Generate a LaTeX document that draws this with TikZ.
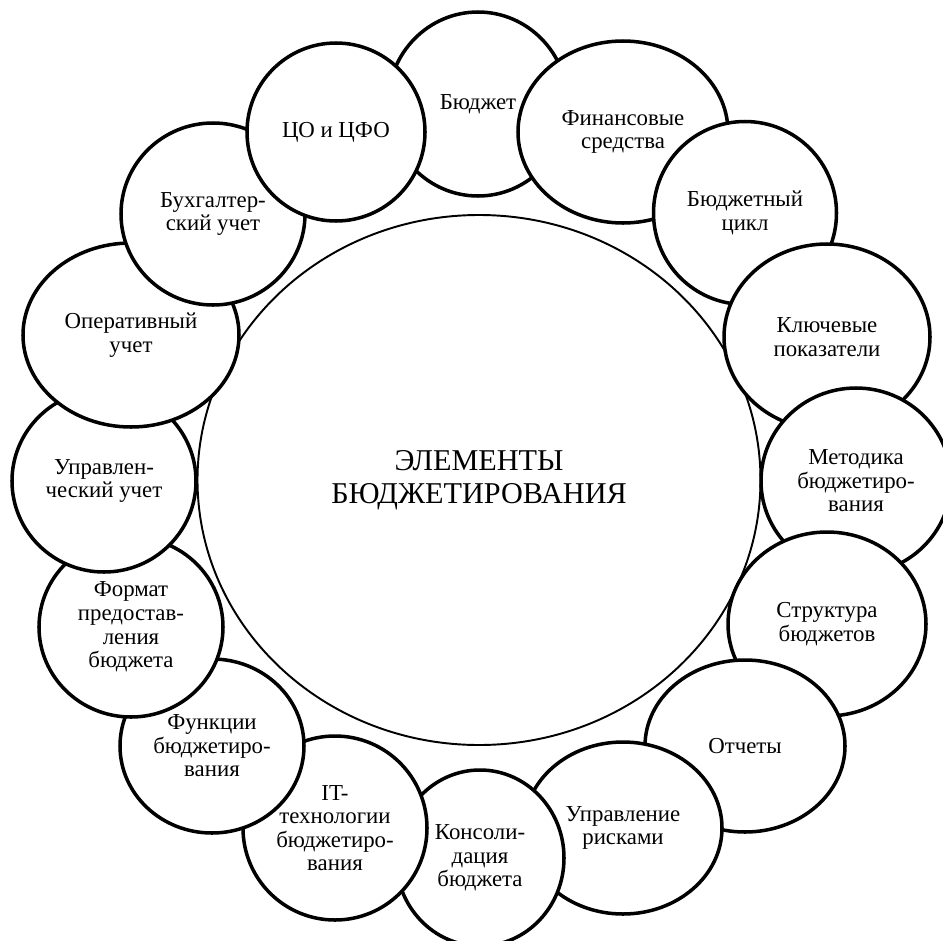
\documentclass[tikz,border=0pt]{standalone}
\usepackage{fontspec}
\setmainfont{Liberation Serif}
\usetikzlibrary{shapes.geometric}
\begin{document}
\begin{tikzpicture}[x=0.02cm, y=-0.02cm,
	bubble/.style 2 args={ellipse, draw, fill=white, line width=2pt, inner sep=0pt, align=center,
		minimum width=#1*0.02cm, minimum height=#2*0.02cm, font=\fontsize{13}{13.4}\selectfont},
	core/.style={ellipse, draw, line width=1.1pt, inner sep=0pt, align=center,
		minimum width=563*0.02cm, minimum height=530*0.02cm, font=\fontsize{17.2}{18.5}\selectfont}]
	\useasboundingbox (0,0) rectangle (943,940);
	\clip (0,0) rectangle (943,940);
	% centre
	\node[core] (elements) at (479,480) {ЭЛЕМЕНТЫ\\БЮДЖЕТИРОВАНИЯ};
	% ring, clockwise from the top, each one above the last
	\node[bubble={180}{184}] (budget) at (478,104) {Бюджет};
	\node[bubble={210}{182}] (funds) at (623,132) {Финансовые\\средства};
	\node[bubble={183}{183}] (cycle) at (745,213) {Бюджетный\\цикл};
	\node[bubble={206}{186}] (kpi) at (827,337) {Ключевые\\показатели};
	\node[bubble={190}{186}] (method) at (856,481) {Методика\\бюджетиро-\\вания};
	\node[bubble={198}{184}] (structure) at (827,624) {Структура\\бюджетов};
	\node[bubble={200}{172}] (reports) at (745,746) {Отчеты};
	\node[bubble={198}{172}] (risks) at (623,828) {Управление\\рисками};
	\node[bubble={168}{176}] (consol) at (480,858) {Консоли-\\дация\\бюджета};
	\node[bubble={184}{184}] (ittech) at (335,828) {IT-\\технологии\\бюджетиро-\\вания};
	\node[bubble={184}{174}] (functions) at (212,746) {Функции\\бюджетиро-\\вания};
	\node[bubble={184}{180}] (format) at (131,627) {Формат\\предостав-\\ления\\бюджета};
	\node[bubble={184}{182}] (mgmt) at (104,481) {Управлен-\\ческий учет};
	\node[bubble={216}{184}] (oper) at (131,335) {Оперативный\\учет};
	\node[bubble={184}{182}] (account) at (213,214) {Бухгалтер-\\ский учет};
	\node[bubble={178}{178}] (cfo) at (336,132) {ЦО и ЦФО};
\end{tikzpicture}
\end{document}
